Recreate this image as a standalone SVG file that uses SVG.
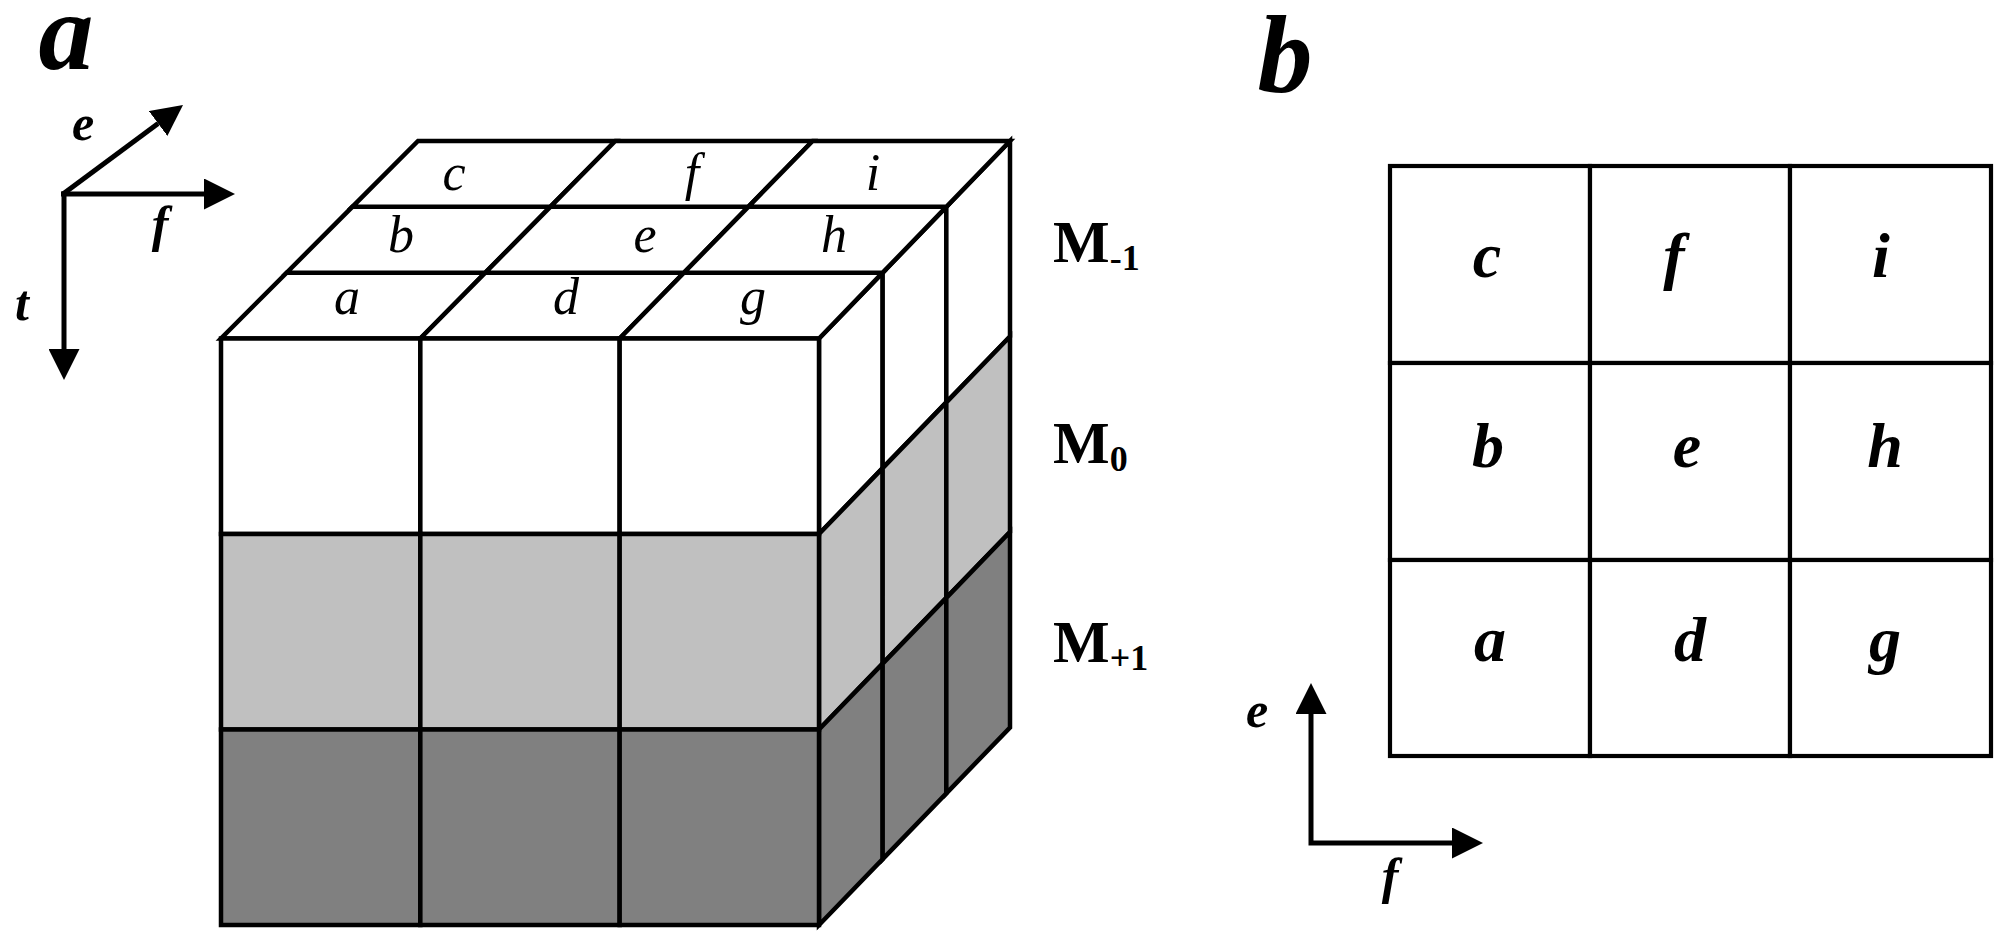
<svg xmlns="http://www.w3.org/2000/svg" width="2006" height="945" viewBox="0 0 2006 945">
<style>
.ln{stroke:#000;stroke-width:4.5;fill:none;stroke-linejoin:miter}
.cw{fill:#fff;stroke:#000;stroke-width:4.5;stroke-linejoin:miter}
.cl{fill:#c0c0c0;stroke:#000;stroke-width:4.5;stroke-linejoin:miter}
.cd{fill:#808080;stroke:#000;stroke-width:4.5;stroke-linejoin:miter}
.gb{fill:#fff;stroke:#000;stroke-width:4.2}
.ax{stroke:#000;stroke-width:5;fill:none}
.t{font-family:"Liberation Serif","Times New Roman",serif;fill:#000}
.it{font-style:italic;font-size:52px;text-anchor:middle}
.bi{font-style:italic;font-weight:bold;text-anchor:middle}
.cell{font-size:64px}
.axl{font-size:50px}
.pl{font-size:110px}
.m{font-weight:bold;font-size:60px}
.sub{font-size:36px}
</style>
<defs>
<marker id="ah" viewBox="0 0 31 31" refX="0" refY="15.5" markerWidth="31" markerHeight="31" markerUnits="userSpaceOnUse" orient="auto-start-reverse"><path d="M0,0 L31,15.5 L0,31 z" fill="#000"/></marker>
</defs>
<rect width="2006" height="945" fill="#fff"/>

<!-- panel labels -->
<text id="label-a" class="t bi pl" x="66" y="69">a</text>
<text id="label-b" class="t bi pl" x="1285" y="92">b</text>

<!-- cube: right side face -->
<g id="cube-side">
<polygon class="cw" points="819,338.5 882.67,272.67 882.67,468.17 819,534"/>
<polygon class="cw" points="882.67,272.67 946.33,206.83 946.33,402.33 882.67,468.17"/>
<polygon class="cw" points="946.33,206.83 1010,141 1010,336.5 946.33,402.33"/>
<polygon class="cl" points="819,534 882.67,468.17 882.67,663.67 819,729.5"/>
<polygon class="cl" points="882.67,468.17 946.33,402.33 946.33,597.83 882.67,663.67"/>
<polygon class="cl" points="946.33,402.33 1010,336.5 1010,532 946.33,597.83"/>
<polygon class="cd" points="819,729.5 882.67,663.67 882.67,859.17 819,925"/>
<polygon class="cd" points="882.67,663.67 946.33,597.83 946.33,793.33 882.67,859.17"/>
<polygon class="cd" points="946.33,597.83 1010,532 1010,727.5 946.33,793.33"/>
</g>

<!-- cube: top face cells -->
<g id="cube-top">
<g id="top-a"><polygon class="cw" points="221,338.5 420.33,338.5 485.33,272.67 286.67,272.67"/><text class="t it" x="347" y="314">a</text></g>
<g id="top-d"><polygon class="cw" points="420.33,338.5 619.67,338.5 684,272.67 485.33,272.67"/><text class="t it" x="566" y="314">d</text></g>
<g id="top-g"><polygon class="cw" points="619.67,338.5 819,338.5 882.67,272.67 684,272.67"/><text class="t it" x="753" y="314">g</text></g>
<g id="top-b"><polygon class="cw" points="286.67,272.67 485.33,272.67 550.33,206.83 352.33,206.83"/><text class="t it" x="401" y="252">b</text></g>
<g id="top-e"><polygon class="cw" points="485.33,272.67 684,272.67 748.33,206.83 550.33,206.83"/><text class="t it" x="645" y="252">e</text></g>
<g id="top-h"><polygon class="cw" points="684,272.67 882.67,272.67 946.33,206.83 748.33,206.83"/><text class="t it" x="834" y="252">h</text></g>
<g id="top-c"><polygon class="cw" points="352.33,206.83 550.33,206.83 615.33,141 418,141"/><text class="t it" x="454" y="190">c</text></g>
<g id="top-f"><polygon class="cw" points="550.33,206.83 748.33,206.83 812.67,141 615.33,141"/><text class="t it" x="692" y="190">f</text></g>
<g id="top-i"><polygon class="cw" points="748.33,206.83 946.33,206.83 1010,141 812.67,141"/><text class="t it" x="873" y="190">i</text></g>
</g>

<!-- cube: front face -->
<g id="cube-front">
<g id="layer-M-1">
<rect class="cw" x="221" y="338.5" width="199.33" height="195.5"/>
<rect class="cw" x="420.33" y="338.5" width="199.33" height="195.5"/>
<rect class="cw" x="619.67" y="338.5" width="199.33" height="195.5"/>
</g>
<g id="layer-M0">
<rect class="cl" x="221" y="534" width="199.33" height="195.5"/>
<rect class="cl" x="420.33" y="534" width="199.33" height="195.5"/>
<rect class="cl" x="619.67" y="534" width="199.33" height="195.5"/>
</g>
<g id="layer-M+1">
<rect class="cd" x="221" y="729.5" width="199.33" height="195.5"/>
<rect class="cd" x="420.33" y="729.5" width="199.33" height="195.5"/>
<rect class="cd" x="619.67" y="729.5" width="199.33" height="195.5"/>
</g>
</g>

<!-- layer labels -->
<g id="layer-labels">
<text class="t m" x="1053" y="262">M<tspan class="sub" dy="8">-1</tspan></text>
<text class="t m" x="1053" y="463">M<tspan class="sub" dy="8">0</tspan></text>
<text class="t m" x="1053" y="662">M<tspan class="sub" dy="8">+1</tspan></text>
</g>

<!-- panel b grid -->
<g id="grid-b">
<g id="b-c"><rect class="gb" x="1390" y="166" width="200" height="197"/><text class="t bi cell" x="1487" y="277">c</text></g>
<g id="b-f"><rect class="gb" x="1590" y="166" width="200" height="197"/><text class="t bi cell" x="1674" y="277">f</text></g>
<g id="b-i"><rect class="gb" x="1790" y="166" width="201" height="197"/><text class="t bi cell" x="1881" y="277">i</text></g>
<g id="b-b"><rect class="gb" x="1390" y="363" width="200" height="197"/><text class="t bi cell" x="1488" y="467">b</text></g>
<g id="b-e"><rect class="gb" x="1590" y="363" width="200" height="197"/><text class="t bi cell" x="1687" y="467">e</text></g>
<g id="b-h"><rect class="gb" x="1790" y="363" width="201" height="197"/><text class="t bi cell" x="1885" y="467">h</text></g>
<g id="b-a"><rect class="gb" x="1390" y="560" width="200" height="196"/><text class="t bi cell" x="1490" y="661">a</text></g>
<g id="b-d"><rect class="gb" x="1590" y="560" width="200" height="196"/><text class="t bi cell" x="1690" y="661">d</text></g>
<g id="b-g"><rect class="gb" x="1790" y="560" width="201" height="196"/><text class="t bi cell" x="1885" y="661">g</text></g>
</g>

<!-- axes (connectors) -->
<g id="connectors">
<line class="ax" x1="63" y1="194" x2="158.1" y2="123.5" marker-end="url(#ah)"/>
<line class="ax" x1="61" y1="194" x2="204" y2="194" marker-end="url(#ah)"/>
<line class="ax" x1="64" y1="191.5" x2="64" y2="349" marker-end="url(#ah)"/>
<path class="ax" d="M1311,714 L1311,843 L1452,843" marker-start="url(#ah)" marker-end="url(#ah)"/>
</g>
<g id="axis-labels">
<text class="t bi axl" x="83" y="140">e</text>
<text class="t bi axl" x="160" y="241">f</text>
<text class="t bi axl" x="22" y="320">t</text>
<text class="t bi axl" x="1257" y="727">e</text>
<text class="t bi axl" x="1390" y="893">f</text>
</g>
</svg>
